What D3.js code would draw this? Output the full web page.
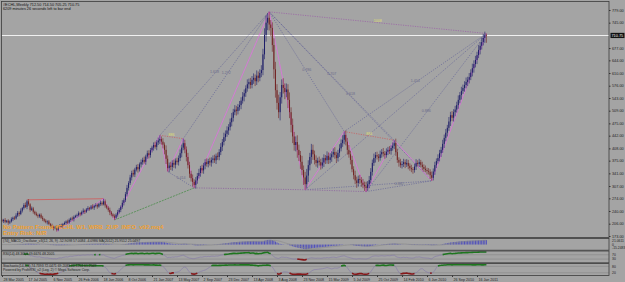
<!DOCTYPE html>
<html>
<head>
<meta charset="utf-8">
<script src="https://cdn.jsdelivr.net/npm/d3@7"></script>
<style>
body { margin: 0; background: #a4a4a4; }
svg { display: block; font-family: "Liberation Sans", Arial, sans-serif; }
</style>
</head>
<body>
<div id="chart"></div>
<script>
// weekly closes (28 Mar 2005 .. Feb 2011)
var firstOpen = 215;
var closes = [213,216,211,214,209,212,218,222,220,228,
  235,232,241,248,256,251,266,258,243,247,
  238,233,229,226,230,222,218,214,210,212,
  205,201,198,194,196,190,197,201,199,205,
  208,212,209,216,220,218,224,227,229,234,
  231,237,241,238,244,248,246,252,249,254,
  256,252,259,262,258,266,255,249,243,236,
  231,226,222,230,237,243,251,262,269,285,
  302,315,330,342,338,351,358,352,365,371,
  377,372,386,395,390,403,410,417,412,424,
  429,433,426,418,404,380,355,362,358,369,
  364,375,371,382,395,410,422,405,385,363,
  340,328,318,310,322,334,342,355,349,362,
  371,366,374,370,377,381,376,388,385,398,
  412,425,438,447,456,465,478,490,505,512,
  508,519,524,536,547,556,569,580,586,578,
  592,597,588,603,597,610,618,660,712,745,
  758,740,731,685,620,564,530,505,545,578,
  570,559,566,538,505,471,440,417,425,404,
  390,372,350,330,312,335,363,385,404,392,
  377,369,375,371,362,370,382,376,388,377,
  384,392,398,390,382,396,408,422,431,444,
  426,404,392,377,352,336,322,315,326,323,
  316,310,306,302,312,323,345,369,382,390,
  386,382,392,398,394,390,399,404,401,409,
  415,422,398,377,370,363,366,371,365,369,
  361,355,352,350,359,369,366,371,364,358,
  353,350,347,345,336,329,346,363,374,382,
  395,404,420,436,450,463,480,497,490,505,
  512,524,538,551,562,570,578,586,592,599,
  611,623,634,645,658,672,683,693,704,712,
  711];
// upper / lower shadow length of each candle
var wickHi = [4,3,5,2,4,3,5,3,4,6, 5,4,6,3,5,7,4,6,3,5, 4,3,5,4,3,4,5,3,4,3,
  4,3,5,3,4,6,3,4,5,3, 4,3,5,4,3,5,4,3,4,5, 3,4,6,3,4,5,3,4,6,3,
  5,4,3,6,4,7,5,3,4,6, 4,3,5,4,6,5,4,7,5,6, 8,5,7,6,9,5,6,8,5,7,
  6,9,5,7,8,6,5,7,9,6, 8,10,7,9,6,12,9,8,10,7, 9,6,8,7,10,8,12,9,8,11,
  9,8,10,7,9,8,11,6,9,7, 8,10,6,9,7,8,10,6,9,8, 10,8,12,9,11,8,10,13,9,12,
  10,8,11,9,12,10,8,13,9,11, 10,12,9,14,11,10,13,15,18,20, 13,16,12,15,18,20,16,22,14,15,
  18,12,16,14,20,13,17,12,15,18, 14,11,16,12,15,18,13,11,16,14, 10,12,8,11,9,13,10,8,12,9,
  11,8,10,13,9,8,11,10,12,9, 12,10,13,9,11,8,12,10,9,11, 8,10,9,12,8,11,10,9,12,8,
  9,7,10,8,11,7,9,8,10,7, 9,8,12,9,7,10,8,9,7,10, 8,7,9,6,8,10,7,9,6,8,
  7,9,6,8,7,10,8,9,7,10, 9,8,11,9,10,8,12,9,11,8, 10,9,12,8,11,9,10,12,8,11,
  9,12,10,11,9,13,10,12,11,9, 4];
var wickLo = [3,5,4,3,6,4,3,5,4,3, 4,6,3,5,4,3,6,4,5,3, 5,4,3,5,4,3,5,4,3,6,
  3,5,4,6,3,5,4,3,4,5, 3,5,4,3,5,4,6,3,5,4, 5,3,4,6,3,4,5,3,4,6,
  4,6,3,5,4,3,6,4,5,7, 5,4,6,3,5,4,6,5,7,5, 6,7,5,8,6,7,5,9,6,8,
  7,5,8,6,9,7,6,8,5,9, 7,9,8,10,12,14,9,11,8,10, 8,10,7,9,8,11,7,10,12,9,
  11,9,12,8,10,9,7,10,8,9, 10,7,9,8,11,9,7,10,8,9, 8,11,9,10,8,12,9,11,10,8,
  12,9,10,11,8,13,10,9,12,10, 9,11,13,10,12,9,11,14,13,18, 20,16,22,18,25,20,18,16,22,17,
  15,19,14,22,16,20,18,15,17,21, 16,19,14,20,15,12,17,14,18,15, 12,10,13,9,11,8,12,10,9,11,
  9,12,8,10,13,9,11,8,10,12, 10,13,9,12,8,11,10,13,9,10, 11,9,12,10,8,11,9,10,8,12,
  8,10,7,9,8,10,7,9,8,10, 7,9,10,8,11,7,9,8,10,7, 9,7,8,10,7,9,6,8,7,9,
  8,6,9,7,10,8,7,9,8,7, 9,10,8,11,9,10,8,12,9,10, 11,8,10,9,12,8,10,9,11,10,
  8,10,12,9,11,8,12,10,9,13, 20];

var dateLabels = ["28 Mar 2005","17 Jul 2005","6 Nov 2005","26 Feb 2006","18 Jun 2006",
  "8 Oct 2006","21 Jan 2007","13 May 2007","2 Sep 2007","23 Dec 2007","13 Apr 2008",
  "3 Aug 2008","23 Nov 2008","15 Mar 2009","5 Jul 2009","25 Oct 2009","14 Feb 2010",
  "6 Jun 2010","26 Sep 2010","16 Jan 2011"];
var barsPerLabel = 16;
var priceTicks = [779,745,677,644,610,576,543,509,475,442,408,375,341,307,274,240,206,173];
var lastPrice = 710.75;

// swing points of the zigzag (bar index)
var highIdx = [16,65,101,116,171,219,251,310];
var lowIdx = [35,72,106,123,194,233,275];
var zigzag = [35,65,72,101,106,116,123,171,194,219,233,251,275,310];
// pattern lines: from, to, label
var fanLines = [[101,171,"1.618"],[116,171,"1.272"],[171,219,"0.786"],[171,251,"0.707"],
  [171,275,"0.618"],[219,310,"1.414"],[194,310,""],[233,310,"0.886"],[106,123,"1.414"],
  [194,275,"0.5"],[233,275,"0.382"]];
var redDotted = [[101,116,"886"],[219,251,"884"]];
var topLine = [171,310,"1008"];
var floorLine = [123,194,233];
var greenLine = [72,123];
var redLine = [16,65];

var opens = closes.map((c, i) => i ? closes[i - 1] : firstOpen);
var highs = closes.map((c, i) => Math.max(opens[i], c) + wickHi[i]);
var lows = closes.map((c, i) => Math.min(opens[i], c) - wickLo[i]);

var svg = d3.select("#chart").append("svg")
  .attr("width", 625)
  .attr("height", 282);

svg.append("rect").attr("width", 625).attr("height", 282).attr("fill", "#a4a4a4");

var left = 1.5, right = 609;
var panels = {
  main: [1.5, 237.5],
  macd: [238.5, 250.2],
  rsi: [251, 262.8],
  stoch: [263.6, 275.5]
};

var x = d3.scaleLinear().domain([0, closes.length - 1]).range([2, 486.4]);
var y = d3.scaleLinear().domain([173, 779]).range([236, 10]);

function pivot(i) {
  return highIdx.indexOf(i) >= 0 ? highs[i] : lows[i];
}

var defs = svg.append("defs");
Object.keys(panels).forEach(function(k) {
  defs.append("clipPath").attr("id", "clip-" + k)
    .append("rect")
    .attr("x", left).attr("y", panels[k][0])
    .attr("width", right - left).attr("height", panels[k][1] - panels[k][0]);
});

var gMain = svg.append("g").attr("clip-path", "url(#clip-main)");

// current price line
gMain.append("line")
  .attr("x1", left).attr("x2", right)
  .attr("y1", Math.round(y(lastPrice)) + 0.5).attr("y2", Math.round(y(lastPrice)) + 0.5)
  .attr("stroke", "#f0f0f0").attr("stroke-width", 1);

function seg(g, a, b, color, dash, width) {
  g.append("line")
    .attr("x1", x(a)).attr("y1", y(pivot(a)))
    .attr("x2", x(b)).attr("y2", y(pivot(b)))
    .attr("stroke", color)
    .attr("stroke-width", width || 0.7)
    .attr("stroke-dasharray", dash || null);
}
function lineLabel(g, a, b, txt, color) {
  if (!txt) return;
  g.append("text")
    .attr("x", (x(a) + x(b)) / 2)
    .attr("y", (y(pivot(a)) + y(pivot(b))) / 2 - 1)
    .attr("text-anchor", "middle")
    .attr("font-size", 3.6)
    .attr("fill", color)
    .text(txt);
}

// fan lines
fanLines.forEach(function(f) {
  seg(gMain, f[0], f[1], "#5c5c96", "1.2,1.2", 0.6);
  lineLabel(gMain, f[0], f[1], f[2], "#6a6a8a");
});
seg(gMain, topLine[0], topLine[1], "#9a5aa6", "1.2,1.2", 0.7);
lineLabel(gMain, topLine[0], topLine[1], topLine[2], "#e0e070");
for (var k = 1; k < floorLine.length; k++) {
  seg(gMain, floorLine[k - 1], floorLine[k], "#8a5a9e", "1.2,1.2", 0.7);
}
redDotted.forEach(function(f) {
  seg(gMain, f[0], f[1], "#c86060", "1.2,1.2", 0.8);
  lineLabel(gMain, f[0], f[1], f[2], "#e0e070");
});
seg(gMain, greenLine[0], greenLine[1], "#3e8a3e", "2,1", 0.7);
seg(gMain, redLine[0], redLine[1], "#d05858", null, 0.8);

// zigzag
gMain.append("path")
  .datum(zigzag)
  .attr("d", d3.line().x(i => x(i)).y(i => y(pivot(i))))
  .attr("fill", "none")
  .attr("stroke", "#e070e0")
  .attr("stroke-width", 0.8);

// candles
function barColor(i) {
  if (closes[i] > opens[i]) return "#1e1e68";
  if (closes[i] < opens[i]) return "#722424";
  return "#606060";
}
var bars = gMain.selectAll("g.bar")
  .data(closes)
  .enter()
  .append("g")
  .attr("class", "bar");
bars.append("line")
  .attr("x1", (d, i) => x(i)).attr("x2", (d, i) => x(i))
  .attr("y1", (d, i) => y(highs[i])).attr("y2", (d, i) => y(lows[i]))
  .attr("stroke", (d, i) => barColor(i))
  .attr("stroke-width", 0.6);
bars.append("rect")
  .attr("x", (d, i) => x(i) - 0.5)
  .attr("width", 1.0)
  .attr("y", (d, i) => y(Math.max(opens[i], d)))
  .attr("height", (d, i) => Math.max(0.7, Math.abs(y(opens[i]) - y(d))))
  .attr("fill", (d, i) => barColor(i));

// header text
svg.append("text").attr("x", 3).attr("y", 5.5).attr("font-size", 3.8).attr("fill", "#111")
  .text("#ECHL,Weekly  712.50 714.50 705.25 710.75");
svg.append("text").attr("x", 3).attr("y", 9.5).attr("font-size", 3.8).attr("fill", "#111")
  .text("6209 minutes 26 seconds left to bar end");

// zup info text
svg.append("text").attr("x", 3).attr("y", 228.5).attr("font-size", 6).attr("font-weight", "bold")
  .attr("fill", "#f0a030").text("No Pattern Found #ECHL W1, WRB_ZUP_INFO_v92.mq4");
svg.append("text").attr("x", 3).attr("y", 235).attr("font-size", 6).attr("font-weight", "bold")
  .attr("fill", "#f0a030").text("Entry Risk: N/R");

// ---- indicators ----
function ema(arr, n) {
  var k = 2 / (n + 1), out = [];
  arr.forEach(function(v, i) { out.push(i ? v * k + out[i - 1] * (1 - k) : v); });
  return out;
}
function sma(arr, n) {
  return arr.map(function(v, i) {
    if (i < n - 1) return v;
    return d3.mean(arr.slice(i - n + 1, i + 1));
  });
}
var e12 = ema(closes, 12), e26 = ema(closes, 26);
var macd = closes.map((c, i) => e12[i] - e26[i]);
var signal = sma(macd, 9);

var rsi = [];
var ag = 0, al = 0;
closes.forEach(function(c, i) {
  if (i === 0) { rsi.push(null); return; }
  var ch = c - closes[i - 1];
  var g = Math.max(ch, 0), l = Math.max(-ch, 0);
  if (i <= 14) {
    ag += g / 14; al += l / 14;
    rsi.push(i === 14 ? 100 - 100 / (1 + ag / al) : null);
  } else {
    ag = (ag * 13 + g) / 14; al = (al * 13 + l) / 14;
    rsi.push(al === 0 ? 100 : 100 - 100 / (1 + ag / al));
  }
});

var rawK = closes.map(function(c, i) {
  if (i < 13) return null;
  var hh = d3.max(highs.slice(i - 13, i + 1)), ll = d3.min(lows.slice(i - 13, i + 1));
  return 100 * (c - ll) / (hh - ll);
});
var stoch = rawK.map(function(v, i) {
  if (i < 15) return null;
  return (rawK[i] + rawK[i - 1] + rawK[i - 2]) / 3;
});

// MACD panel
var gMacd = svg.append("g").attr("clip-path", "url(#clip-macd)");
var yMacd = d3.scaleLinear().domain([d3.min(macd), d3.max(macd)]).range([249.2, 239.8]);
gMacd.selectAll("line.h")
  .data(macd)
  .enter()
  .append("line")
  .attr("class", "h")
  .attr("x1", (d, i) => x(i)).attr("x2", (d, i) => x(i))
  .attr("y1", yMacd(0)).attr("y2", d => yMacd(d))
  .attr("stroke", "#3a3ac0")
  .attr("stroke-width", 0.8);
gMacd.append("path")
  .datum(signal)
  .attr("d", d3.line().x((d, i) => x(i)).y(d => yMacd(d)))
  .attr("fill", "none").attr("stroke", "#8a8a8a").attr("stroke-width", 0.6);

// RSI / Stoch panels
function oscPanel(name, vals, hi, lo, top, bottom) {
  var g = svg.append("g").attr("clip-path", "url(#clip-" + name + ")");
  var ys = d3.scaleLinear().domain([0, 100]).range([bottom - 0.5, top + 0.5]);
  [hi, lo].forEach(function(lv) {
    g.append("line").attr("x1", left).attr("x2", right)
      .attr("y1", ys(lv)).attr("y2", ys(lv))
      .attr("stroke", "#5a5a5a").attr("stroke-width", 0.5).attr("stroke-dasharray", "1,1");
  });
  g.append("path").datum(vals)
    .attr("d", d3.line().defined(d => d != null).x((d, i) => x(i)).y(d => ys(d)))
    .attr("fill", "none").attr("stroke", "#8478aa").attr("stroke-width", 0.6);
  g.append("path").datum(vals)
    .attr("d", d3.line().defined(d => d != null && d >= hi).x((d, i) => x(i)).y(d => ys(d)))
    .attr("fill", "none").attr("stroke", "#1e761e").attr("stroke-width", 1.6);
  g.append("path").datum(vals)
    .attr("d", d3.line().defined(d => d != null && d <= lo).x((d, i) => x(i)).y(d => ys(d)))
    .attr("fill", "none").attr("stroke", "#861818").attr("stroke-width", 1.6);
  return ys;
}
var yRsi = oscPanel("rsi", rsi, 70, 30, panels.rsi[0], panels.rsi[1]);
var ySto = oscPanel("stoch", stoch, 80, 20, panels.stoch[0], panels.stoch[1]);

// panel borders
Object.keys(panels).forEach(function(k) {
  svg.append("rect")
    .attr("x", left).attr("y", panels[k][0])
    .attr("width", right - left).attr("height", panels[k][1] - panels[k][0])
    .attr("fill", "none").attr("stroke", "#3c3c3c").attr("stroke-width", 0.8);
});

// panel captions
var cap = [
  [panels.macd[0] + 3.6, "(74)_MACD_Oscillator_v3(12, 26, 9) -52.9098 57.0084 -4.0986 MA(2012) 25.9512 25.0497"],
  [panels.rsi[0] + 3.6, "RSI(14) 48.3653 49.6676 48.2005"],
  [panels.stoch[0] + 3.6, "Stochastic(14,3,3) 74.7393 72.0471 69.2083 40.1254 61.2069"],
  [panels.stoch[0] + 7.4, "Powered by ProfitRSI_v2 (Log, 2) \u00a9 Mega Software Corp."]
];
cap.forEach(function(c) {
  svg.append("text").attr("x", 3).attr("y", c[0]).attr("font-size", 3.4).attr("fill", "#222").text(c[1]);
});

// right price axis
var axisR = svg.append("g")
  .attr("transform", `translate(${right},0)`)
  .call(d3.axisRight(y).tickValues(priceTicks).tickSize(1.5).tickFormat(d3.format(".2f")));
axisR.select(".domain").remove();
axisR.selectAll("line").attr("stroke", "#333");
axisR.selectAll("text").attr("font-size", 3.8).attr("fill", "#222").attr("x", 3)
  .style("font-family", "Liberation Sans, Arial, sans-serif");

// current price tag
var yl = y(lastPrice);
svg.append("rect").attr("x", right + 1.5).attr("y", yl - 2.6).attr("width", 14).attr("height", 5.2).attr("fill", "#111");
svg.append("text").attr("x", right + 2.5).attr("y", yl + 1.4).attr("font-size", 3.8).attr("fill", "#f0f0f0")
  .text(d3.format(".2f")(lastPrice));

// indicator axis labels
function sideLabel(yy, txt) {
  svg.append("text").attr("x", right + 3).attr("y", yy + 1.3).attr("font-size", 3.4).attr("fill", "#222").text(txt);
}
sideLabel(240.5, "21.0611");
sideLabel(244.2, "0");
sideLabel(248, "-15.2483");
sideLabel(yRsi(70), "70");
sideLabel(yRsi(30), "30");
sideLabel(ySto(80), "80");
sideLabel(ySto(20), "20");

// date axis
var axisB = svg.append("g")
  .attr("transform", `translate(0,${panels.stoch[1]})`)
  .call(d3.axisBottom(x)
    .tickValues(dateLabels.map((d, i) => i * barsPerLabel))
    .tickSize(1.5)
    .tickFormat((d, i) => dateLabels[i]));
axisB.select(".domain").remove();
axisB.selectAll("line").attr("stroke", "#333");
axisB.selectAll("text")
  .attr("font-size", 3.6).attr("fill", "#222")
  .attr("text-anchor", "start").attr("dx", 1).attr("y", 2.5)
  .style("font-family", "Liberation Sans, Arial, sans-serif");
</script>
</body>
</html>
